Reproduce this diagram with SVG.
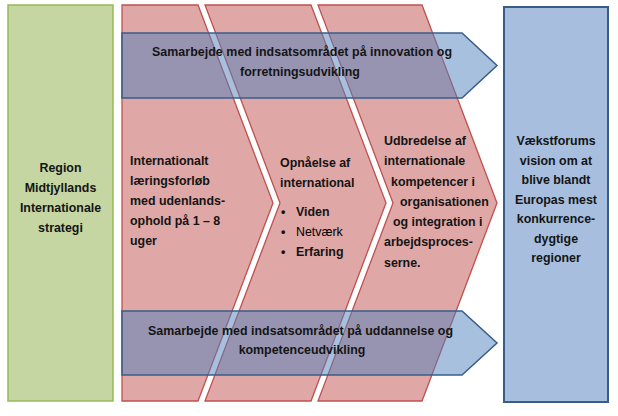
<svg xmlns="http://www.w3.org/2000/svg" width="618" height="416" viewBox="0 0 618 416">
<style>
text{font-family:"Liberation Sans",Arial,sans-serif;font-size:12.4px;font-weight:bold;fill:#141414}
.c{text-anchor:middle}
.n{font-weight:normal;fill:#000000}
.chev{fill:#c0504d;fill-opacity:0.5;stroke:#c0504d;stroke-width:1.3;stroke-linejoin:miter}
.arr{fill:#4f81bd;fill-opacity:0.5;stroke:#385d8a;stroke-width:1.5}
</style>
<rect width="618" height="416" fill="#ffffff"/>
<g id="strategy">
<rect x="8" y="5" width="105" height="396" fill="#c5d6a3" stroke="#98b954" stroke-width="1.5"/>
<text class="c" x="60.5" y="172">Region</text>
<text class="c" x="60.5" y="192">Midtjyllands</text>
<text class="c" x="60.5" y="212">Internationale</text>
<text class="c" x="60.5" y="232">strategi</text>
</g>
<g id="step1">
<polygon class="chev" points="122,5 198,5 273,203 198,401 122,401"/>
<text x="130" y="165">Internationalt</text>
<text x="130" y="185">læringsforløb</text>
<text x="130" y="205">med udenlands-</text>
<text x="130" y="225">ophold på 1 – 8</text>
<text x="130" y="245">uger</text>
</g>
<g id="step2">
<polygon class="chev" points="205,5 311,5 386,203 311,401 205,401 280,203"/>
<text x="280" y="167">Opnåelse af</text>
<text x="280" y="187">international</text>
<text x="281" y="216">•</text>
<text x="296" y="216">Viden</text>
<text x="281" y="236">•</text>
<text class="n" x="296" y="236">Netværk</text>
<text x="281" y="256">•</text>
<text x="296" y="256">Erfaring</text>
</g>
<g id="step3">
<polygon class="chev" points="318,5 422,5 497,203 422,401 318,401 393,203"/>
<text x="384" y="145">Udbredelse af</text>
<text x="384" y="165">internationale</text>
<text x="391" y="185.5">kompetencer i</text>
<text x="400" y="206">organisationen</text>
<text x="393" y="226">og integration i</text>
<text x="384" y="246">arbejdsproces-</text>
<text x="384" y="266.5">serne.</text>
</g>
<g id="innovation">
<polygon class="arr" points="122,33 462,33 497,65.5 462,98 122,98"/>
<text x="152" y="56" textLength="300" lengthAdjust="spacing">Samarbejde med indsatsområdet på innovation og</text>
<text class="c" x="300" y="76">forretningsudvikling</text>
</g>
<g id="education">
<polygon class="arr" points="122,311 462,311 497,343 462,375 122,375"/>
<text x="148" y="335" textLength="305" lengthAdjust="spacing">Samarbejde med indsatsområdet på uddannelse og</text>
<text class="c" x="302" y="354">kompetenceudvikling</text>
</g>
<g id="vision">
<rect x="504" y="7" width="104" height="395" fill="#a7bede" stroke="#385d8a" stroke-width="2"/>
<text class="c" x="556" y="145">Vækstforums</text>
<text class="c" x="556" y="164.5">vision om at</text>
<text class="c" x="556" y="184">blive blandt</text>
<text class="c" x="556" y="203.5">Europas mest</text>
<text class="c" x="556" y="223">konkurrence-</text>
<text class="c" x="556" y="242.5">dygtige</text>
<text class="c" x="556" y="262">regioner</text>
</g>
<g id="connectors"/>
</svg>
